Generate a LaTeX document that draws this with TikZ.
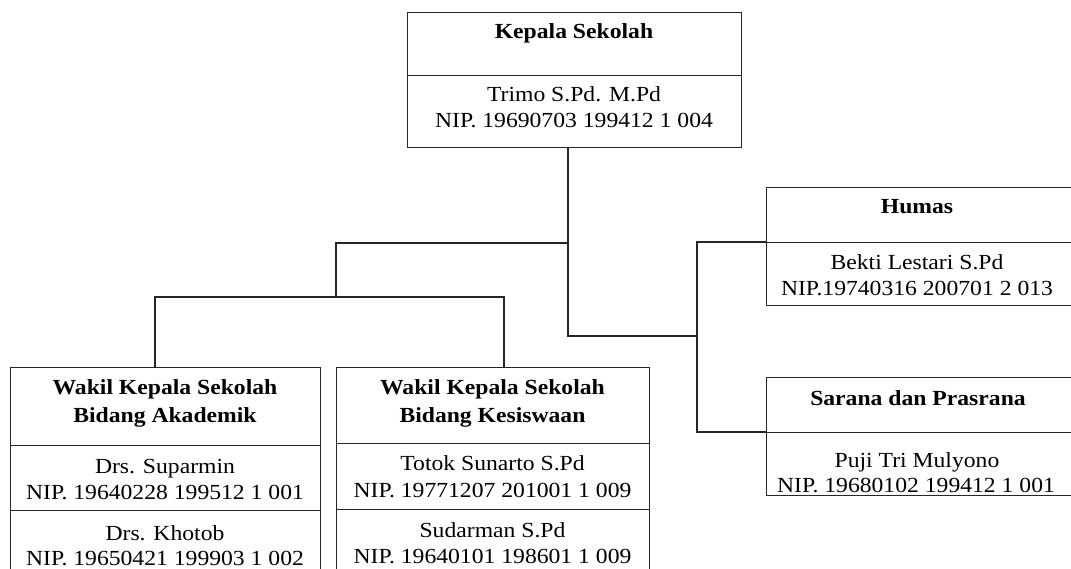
\documentclass[tikz,border=0pt]{standalone}
\usepackage{fontspec}
\setmainfont{Liberation Serif}[FakeStretch=1.1]
\begin{document}
\begin{tikzpicture}[x=1pt,y=-1pt,
  cell/.style={draw=black!85,line width=1.1pt,rectangle,inner sep=0pt,anchor=north west},
  txt/.style={anchor=base,inner sep=0pt,font=\fontsize{21.5}{26}\selectfont},
  ttl/.style={txt,font=\fontsize{21.5}{26}\selectfont\bfseries},
  wire/.style={draw=black!85,line width=1.1pt}]
\useasboundingbox (0,0) rectangle (1071,569);
% --- Kepala Sekolah
\node[cell,minimum width=334pt,minimum height=63pt] (ksA) at (407,12) {};
\node[cell,minimum width=334pt,minimum height=72pt] (ksB) at (407,75) {};
\node[ttl] (ksT) at (574,39) {Kepala Sekolah};
\node[txt] (ksN1) at (574,102) {Trimo S.Pd. M.Pd};
\node[txt] (ksN2) at (574,128) {NIP. 19690703 199412 1 004};
% --- Akademik
\node[cell,minimum width=310pt,minimum height=78pt] (akA) at (10,367) {};
\node[cell,minimum width=310pt,minimum height=65pt] (akB) at (10,445) {};
\node[cell,minimum width=310pt,minimum height=80pt] (akC) at (10,510) {};
\node[ttl] (akT1) at (165,394) {Wakil Kepala Sekolah};
\node[ttl] (akT2) at (165,422) {Bidang Akademik};
\node[txt] (akN1) at (165,473) {Drs. Suparmin};
\node[txt] (akN2) at (165,499) {NIP. 19640228 199512 1 001};
\node[txt] (akN3) at (165,540) {Drs. Khotob};
\node[txt] (akN4) at (165,565) {NIP. 19650421 199903 1 002};
% --- Kesiswaan
\node[cell,minimum width=313pt,minimum height=76pt] (kkA) at (336,367) {};
\node[cell,minimum width=313pt,minimum height=66pt] (kkB) at (336,443) {};
\node[cell,minimum width=313pt,minimum height=80pt] (kkC) at (336,509) {};
\node[ttl] (kkT1) at (492.5,394) {Wakil Kepala Sekolah};
\node[ttl] (kkT2) at (492.5,422) {Bidang Kesiswaan};
\node[txt] (kkN1) at (492.5,470) {Totok Sunarto S.Pd};
\node[txt] (kkN2) at (492.5,497) {NIP. 19771207 201001 1 009};
\node[txt] (kkN3) at (492.5,537) {Sudarman S.Pd};
\node[txt] (kkN4) at (492.5,563) {NIP. 19640101 198601 1 009};
% --- Humas
\node[cell,minimum width=314pt,minimum height=55pt] (hmA) at (766,187) {};
\node[cell,minimum width=314pt,minimum height=63pt] (hmB) at (766,242) {};
\node[ttl] (hmT) at (917,214) {Humas};
\node[txt] (hmN1) at (917,270) {Bekti Lestari S.Pd};
\node[txt] (hmN2) at (917,296) {NIP.19740316 200701 2 013};
% --- Sarana
\node[cell,minimum width=314pt,minimum height=55pt] (spA) at (766,377) {};
\node[cell,minimum width=314pt,minimum height=63pt] (spB) at (766,432) {};
\node[ttl] (spT) at (918,405) {Sarana dan Prasrana};
\node[txt] (spN1) at (917,467) {Puji Tri Mulyono};
\node[txt] (spN2) at (916,492) {NIP. 19680102 199412 1 001};
% --- connectors
\coordinate (trunk) at (568,336);
\coordinate (lj) at (568,243);
\coordinate (lh) at (336,297);
\coordinate (rv) at (697,336);
\draw[wire] (ksB.south -| trunk) -- (trunk) -- (rv);
\draw[wire] (lj) -| (lh);
\draw[wire] ([xshift=145pt]akA.north west) -- ++(0,-70) -| ([xshift=168pt]kkA.north west);
\draw[wire] (hmB.north west) -| (rv) |- (spB.north west);
\end{tikzpicture}
\end{document}
